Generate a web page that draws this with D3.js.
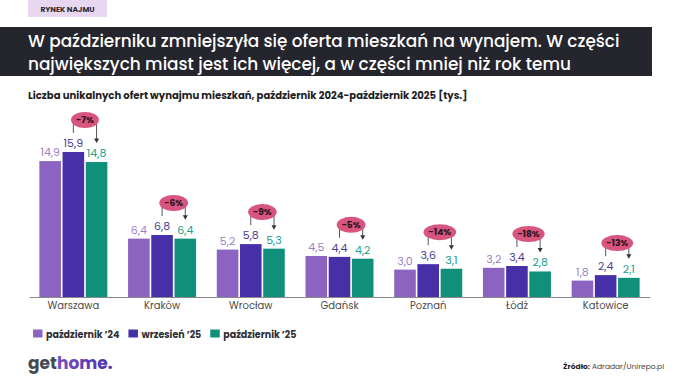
<!DOCTYPE html>
<html>
<head>
<meta charset="utf-8">
<script src="https://cdn.jsdelivr.net/npm/d3@7"></script>
<style>
  body { margin: 0; background: #fff; }
  svg { display: block; font-family: Poppins, 'Noto Sans', sans-serif; }
</style>
</head>
<body>
<div id="chart"></div>
<script>
// data -------------
const cities = ['Warszawa', 'Kraków', 'Wrocław', 'Gdańsk', 'Poznań', 'Łódź', 'Katowice'];
const oct24 = [14.9, 6.4, 5.2, 4.5, 3.0, 3.2, 1.8];
const sep25 = [15.9, 6.8, 5.8, 4.4, 3.6, 3.4, 2.4];
const oct25 = [14.8, 6.4, 5.3, 4.2, 3.1, 2.8, 2.1];
const changes = ['-7%', '-6%', '-9%', '-5%', '-14%', '-18%', '-13%'];
const seriesNames = ['październik ’24', 'wrzesień ’25', 'październik ’25'];

const width = 680, height = 383;
const colors = ['#8c63c0', '#472fa8', '#10907a'];
const labelColors = ['#9b7fc8', '#4a3c92', '#20a08a'];
const margin = {
  left: 29,
  right: 650,
  base: 297,
  groupW: 68
};

const svg = d3.select('#chart').append('svg')
  .attr('width', width)
  .attr('height', height);

// shrink/grow font so the text fits a given width
function fitText(sel, target) {
  const fs = parseFloat(sel.attr('font-size'));
  const len = sel.node().getComputedTextLength();
  sel.attr('font-size', fs * target / len);
}

// header -------------
svg.append('rect')
  .attr('x', 28).attr('y', 0).attr('width', 79).attr('height', 17)
  .attr('fill', '#e7d8f0');
svg.append('text')
  .attr('x', 67.5).attr('y', 11.5)
  .attr('text-anchor', 'middle')
  .attr('font-size', 7.5).attr('font-weight', 700)
  .attr('fill', '#2c2c35')
  .text('RYNEK NAJMU');

svg.append('rect')
  .attr('x', 0).attr('y', 27).attr('width', 652).attr('height', 49)
  .attr('fill', '#25252d');

const t1 = svg.append('text')
  .attr('x', 28).attr('y', 47)
  .attr('font-size', 19).attr('font-weight', 500).attr('fill', '#fff')
  .text('W październiku zmniejszyła się oferta mieszkań na wynajem. W części');
fitText(t1, 592);
svg.append('text')
  .attr('x', 28).attr('y', 70)
  .attr('font-size', t1.attr('font-size')).attr('font-weight', 500).attr('fill', '#fff')
  .text('największych miast jest ich więcej, a w części mniej niż rok temu');

const sub = svg.append('text')
  .attr('x', 28).attr('y', 99)
  .attr('font-size', 10.5).attr('font-weight', 700).attr('fill', '#1e1e24')
  .text('Liczba unikalnych ofert wynajmu mieszkań, październik 2024-październik 2025  [tys.]');
fitText(sub, 440);

// scales -------------
const x0 = d3.scaleBand().domain(cities).range([margin.left, margin.right]);
const x1 = d3.scaleBand().domain([0, 1, 2]).range([0, margin.groupW]).paddingInner(0.07);
const off = (x0.bandwidth() - margin.groupW) / 2;
const y = d3.scaleLinear().domain([0, 16]).range([margin.base, margin.base - 16 * 9.12]);

const series = [oct24, sep25, oct25];
const barX = (i, s) => x0(cities[i]) + off + x1(s);
const barC = (i, s) => barX(i, s) + x1.bandwidth() / 2;

// axis
const xAxis = d3.axisBottom(x0).tickSize(0).tickSizeOuter(0).tickPadding(5);
const ax = svg.append('g')
  .attr('transform', 'translate(0,' + margin.base + ')')
  .call(xAxis);
ax.attr('font-family', null);
ax.select('.domain').attr('stroke', '#8a8a8a');
ax.selectAll('text')
  .attr('font-size', 10).attr('fill', '#4a4a4a');

// bars + labels
series.forEach(function(vals, s) {
  const g = svg.append('g');
  g.selectAll('rect')
    .data(vals)
    .enter()
    .append('rect')
      .attr('x', (d, i) => barX(i, s))
      .attr('y', d => y(d))
      .attr('width', x1.bandwidth())
      .attr('height', d => margin.base - y(d))
      .attr('fill', colors[s]);
  g.selectAll('text')
    .data(vals)
    .enter()
    .append('text')
      .attr('x', (d, i) => barC(i, s))
      .attr('y', d => y(d) - 5)
      .attr('text-anchor', 'middle')
      .attr('font-size', 11)
      .attr('fill', labelColors[s])
      .text(d => d.toFixed(1).replace('.', ','));
});

// change badges
cities.forEach(function(c, i) {
  const ax1 = barC(i, 1), ax2 = barC(i, 2);
  const cy = y(sep25[i]) - 32;
  const tip = y(oct25[i]) - 19;
  const g = svg.append('g');
  g.append('path')
    .attr('d', 'M' + ax1 + ',' + (y(sep25[i]) - 19) + 'V' + cy + 'H' + ax2 + 'V' + (tip - 4))
    .attr('fill', 'none').attr('stroke', '#555').attr('stroke-width', 1);
  g.append('path')
    .attr('d', 'M' + (ax2 - 2.5) + ',' + (tip - 4.5) + 'L' + (ax2 + 2.5) + ',' + (tip - 4.5) + 'L' + ax2 + ',' + tip + 'Z')
    .attr('fill', '#333');
  const el = g.append('ellipse')
    .attr('cx', (ax1 + ax2) / 2).attr('cy', cy)
    .attr('ry', 8)
    .attr('fill', '#d8557f');
  const tx = g.append('text')
    .attr('x', (ax1 + ax2) / 2).attr('y', cy + 3.2)
    .attr('text-anchor', 'middle')
    .attr('font-size', 9).attr('font-weight', 700).attr('fill', '#2a1420')
    .text(changes[i]);
  const tw = tx.node().getComputedTextLength();
  el.attr('rx', Math.max(tw / 2 + 5, (ax2 - ax1) / 2));
});

// legend
let lx = 33;
seriesNames.forEach(function(n, s) {
  svg.append('rect')
    .attr('x', lx).attr('y', 329.5).attr('width', 9.5).attr('height', 8)
    .attr('fill', colors[s]);
  const t = svg.append('text')
    .attr('x', lx + 13).attr('y', 337.5)
    .attr('font-size', 9.5).attr('font-weight', 700).attr('fill', '#2f2f36')
    .text(n);
  lx += 13 + t.node().getComputedTextLength() + 9;
});

// footer
const defs = svg.append('defs');
const grad = defs.append('linearGradient').attr('id', 'logoGrad');
grad.append('stop').attr('offset', '0%').attr('stop-color', '#8a62c6');
grad.append('stop').attr('offset', '100%').attr('stop-color', '#4d2fae');

const logo = svg.append('text')
  .attr('x', 28).attr('y', 369)
  .attr('font-size', 17).attr('font-weight', 700)
  .attr('fill', '#454a53')
  .text('get');
logo.append('tspan').attr('fill', 'url(#logoGrad)').text('home.');

const src = svg.append('text')
  .attr('x', 664).attr('y', 369)
  .attr('text-anchor', 'end')
  .attr('font-size', 7.5).attr('fill', '#444');
src.append('tspan').attr('font-weight', 700).attr('fill', '#222').text('Źródło:');
src.append('tspan').text(' Adradar/Unirepo.pl');
</script>
</body>
</html>
